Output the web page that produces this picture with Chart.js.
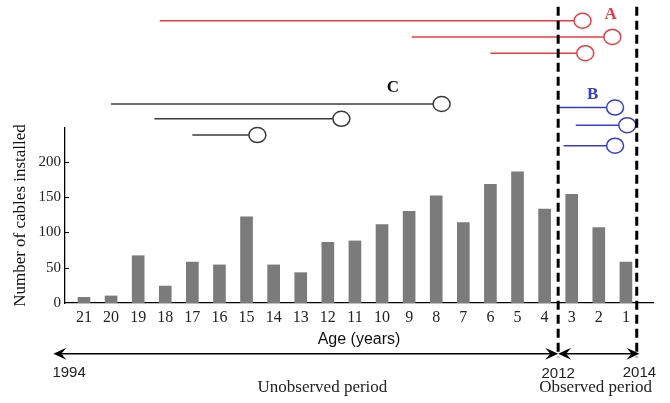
<!DOCTYPE html>
<html>
<head>
<meta charset="utf-8">
<script src="https://cdn.jsdelivr.net/npm/chart.js@4.4.0/dist/chart.umd.min.js"></script>
<style>
  html, body { margin: 0; padding: 0; background: #fff; }
</style>
</head>
<body>
<canvas id="chart" width="670" height="403"></canvas>
<script>
const ages = [21, 20, 19, 18, 17, 16, 15, 14, 13, 12, 11, 10, 9, 8, 7, 6, 5, 4, 3, 2, 1];
const cables = [8, 10, 67, 24, 58, 54, 122, 54, 43, 86, 88, 111, 130, 152, 114, 168, 186, 133, 154, 107, 58];
const yTicks = [0, 50, 100, 150, 200];

// lifelines as [installed age, failure age]
const groupA = [[18.2, 2.6], [8.9, 1.5], [6.0, 2.5]];
const groupB = [[3.5, 1.4], [2.85, 0.95], [3.3, 1.4]];
const groupC = [[20.0, 7.8], [18.4, 11.5], [17.0, 14.6]];

// period boundaries on the age axis and their years
const bounds = [22.13, 3.5, 0.5];
const years = ['1994', '2012', '2014'];

const serif = "'Liberation Serif', 'Times New Roman', serif";
const sans = "'Liberation Sans', Arial, sans-serif";

const drawArrowHead = (ctx, x, y, dir) => {
  ctx.beginPath();
  ctx.moveTo(x, y);
  ctx.lineTo(x - dir * 13, y - 6);
  ctx.lineTo(x - dir * 8, y);
  ctx.lineTo(x - dir * 13, y + 6);
  ctx.closePath();
  ctx.fill();
};

const overlay = {
  id: 'overlay',
  afterDraw(chart) {
    const { ctx, scales: { x, y } } = chart;
    const px = v => x.getPixelForValue(v);
    const py = v => y.getPixelForValue(v);
    ctx.save();

    // small inward ticks on the y axis
    ctx.strokeStyle = '#000';
    ctx.lineWidth = 1;
    yTicks.slice(1).forEach(v => {
      ctx.beginPath();
      ctx.moveTo(x.left, Math.round(py(v)) + 0.5);
      ctx.lineTo(x.left + 4, Math.round(py(v)) + 0.5);
      ctx.stroke();
    });

    const lifeline = (pair, level, color) => {
      const x0 = px(pair[0]), x1 = px(pair[1]), yy = py(level);
      ctx.strokeStyle = color;
      ctx.lineWidth = 1.5;
      ctx.beginPath();
      ctx.moveTo(x0, yy);
      ctx.lineTo(x1 - 8.5, yy);
      ctx.stroke();
      ctx.beginPath();
      ctx.ellipse(x1, yy, 8.5, 7.5, 0, 0, Math.PI * 2);
      ctx.fillStyle = '#fff';
      ctx.fill();
      ctx.stroke();
    };
    [400, 377, 354].forEach((lv, i) => lifeline(groupA[i], lv, '#ec3a40'));
    [277, 252, 223].forEach((lv, i) => lifeline(groupB[i], lv, '#3b3bcc'));
    [282, 261, 238].forEach((lv, i) => lifeline(groupC[i], lv, '#3a3a3a'));

    ctx.font = 'bold 17px ' + serif;
    ctx.textAlign = 'center';
    ctx.textBaseline = 'middle';
    ctx.fillStyle = '#ec3a40';
    ctx.fillText('A', px(1.56), py(408));
    ctx.fillStyle = '#3b3bcc';
    ctx.fillText('B', px(2.23), py(296));
    ctx.fillStyle = '#111';
    ctx.fillText('C', px(9.6), py(305));

    // dashed boundaries of the observed period
    ctx.strokeStyle = '#000';
    ctx.lineWidth = 3;
    ctx.setLineDash([9, 5]);
    [3.5, 0.6].forEach(a => {
      ctx.beginPath();
      ctx.moveTo(px(a), py(420));
      ctx.lineTo(px(a), py(-77));
      ctx.stroke();
    });
    ctx.setLineDash([]);

    // timeline arrows
    const ty = py(-72);
    ctx.strokeStyle = '#000';
    ctx.fillStyle = '#000';
    ctx.lineWidth = 1.5;
    for (let i = 0; i < bounds.length - 1; i++) {
      const a = px(bounds[i]), b = px(bounds[i + 1]);
      ctx.beginPath();
      ctx.moveTo(a + 4, ty);
      ctx.lineTo(b - 4, ty);
      ctx.stroke();
      drawArrowHead(ctx, a, ty, -1);
      drawArrowHead(ctx, b, ty, 1);
    }

    ctx.font = '15px ' + sans;
    ctx.fillStyle = '#222';
    ctx.fillText(years[0], px(21.55), py(-99));
    ctx.fillText(years[1], px(bounds[1]), py(-101));
    ctx.fillText(years[2], px(bounds[2]), py(-99));

    ctx.font = '17px ' + serif;
    ctx.fillText('Unobserved period', px(12.2), py(-120));
    ctx.textAlign = 'left';
    ctx.fillText('Observed period', px(4.2), py(-120));

    ctx.restore();
  }
};

new Chart(document.getElementById('chart'), {
  type: 'bar',
  data: {
    datasets: [{
      data: ages.map((a, i) => ({ x: a, y: cables[i] })),
      backgroundColor: '#7b7b7b',
      barThickness: 12
    }]
  },
  options: {
    responsive: false,
    animation: false,
    layout: { padding: { left: 0, right: 17, top: 128, bottom: 50 } },
    plugins: { legend: { display: false }, tooltip: { enabled: false } },
    scales: {
      x: {
        type: 'linear',
        reverse: true,
        offset: false,
        min: 0,
        max: 21.7,
        grid: { display: false, drawTicks: false },
        border: { color: '#000', width: 1.3 },
        afterBuildTicks: s => { s.ticks = ages.map(v => ({ value: v })); },
        afterFit: s => { s.height = 50; },
        ticks: {
          autoSkip: false,
          maxRotation: 0,
          padding: 5,
          color: '#222',
          font: { family: serif, size: 16 }
        },
        title: {
          display: true,
          text: 'Age (years)',
          color: '#111',
          font: { family: sans, size: 16 },
          padding: { top: 0, bottom: 4 }
        }
      },
      y: {
        min: 0,
        max: 248,
        grid: { display: false, drawTicks: false },
        border: { color: '#000', width: 1.3 },
        afterBuildTicks: s => { s.ticks = yTicks.map(v => ({ value: v })); },
        afterFit: s => { s.width = 65; },
        ticks: {
          padding: 4,
          color: '#222',
          font: { family: serif, size: 15 }
        },
        title: {
          display: true,
          text: 'Number of cables installed',
          color: '#111',
          font: { family: serif, size: 17 },
          padding: { top: 10, bottom: 0 }
        }
      }
    }
  },
  plugins: [overlay]
});
</script>
</body>
</html>
